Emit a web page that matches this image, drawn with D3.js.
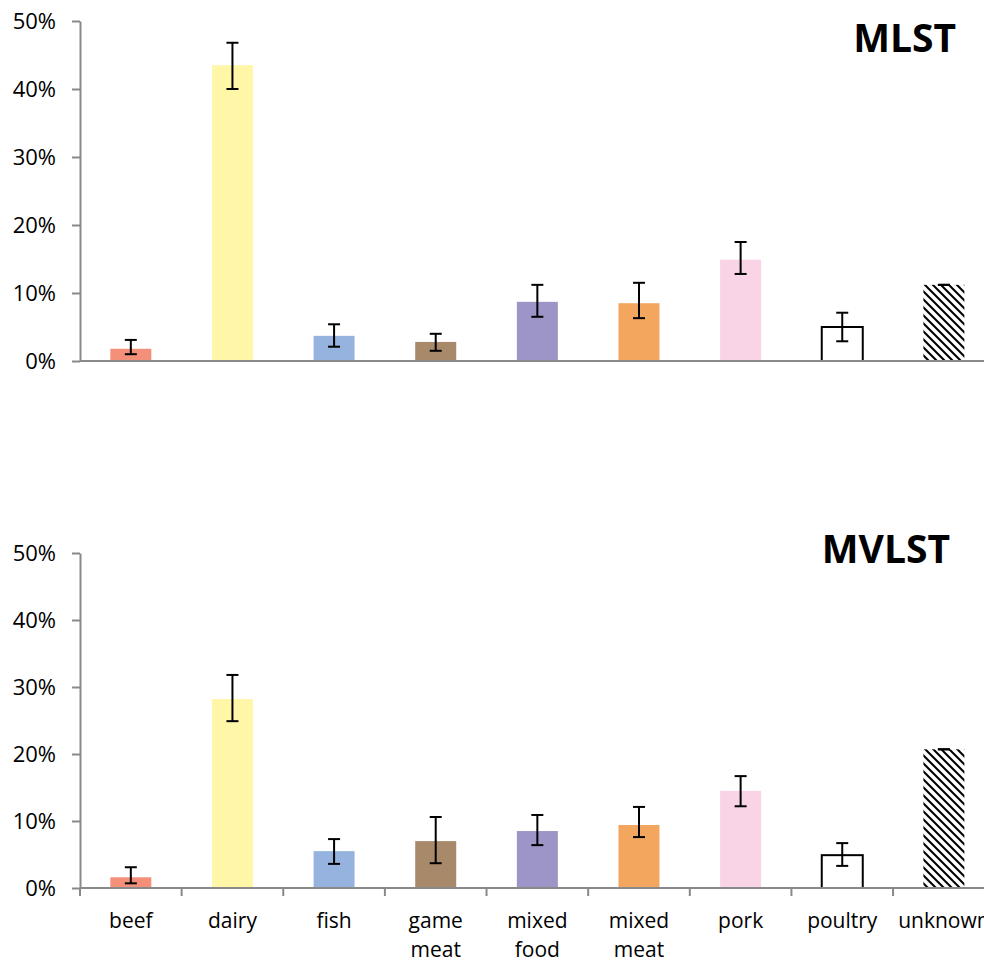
<!DOCTYPE html>
<html>
<head>
<meta charset="utf-8">
<script src="https://cdn.jsdelivr.net/npm/d3@7"></script>
<style>
  body { margin: 0; background: #fff; }
  svg { display: block; font-family: "Open Sans", sans-serif; }
</style>
</head>
<body>
<script>
var categories = ["beef", "dairy", "fish", "game meat", "mixed food", "mixed meat", "pork", "poultry", "unknown"];
var colors = ["#f4907a", "#fff6a8", "#95b3de", "#a88a6a", "#9d94c8", "#f2a65e", "#f9d3e6", "#ffffff", "hatch"];
var yTicks = [0, 0.1, 0.2, 0.3, 0.4, 0.5];

// MLST
var mlstValues = [0.018, 0.435, 0.037, 0.028, 0.087, 0.085, 0.149, 0.050, 0.112];
var mlstLow    = [0.010, 0.400, 0.021, 0.015, 0.065, 0.063, 0.128, 0.029, 0.112];
var mlstHigh   = [0.031, 0.468, 0.054, 0.040, 0.112, 0.115, 0.175, 0.071, 0.112];

// MVLST
var mvlstValues = [0.016, 0.282, 0.055, 0.070, 0.085, 0.094, 0.145, 0.049, 0.207];
var mvlstLow    = [0.007, 0.249, 0.036, 0.037, 0.064, 0.076, 0.122, 0.033, 0.207];
var mvlstHigh   = [0.031, 0.318, 0.073, 0.106, 0.109, 0.121, 0.167, 0.067, 0.207];

var width = 984;
var height = 962;
var axisColor = "#898989";

var svg = d3.select("body").append("svg")
	.attr("width", width)
	.attr("height", height);

var defs = svg.append("defs");
defs.append("pattern")
	.attr("id", "hatch")
	.attr("patternUnits", "userSpaceOnUse")
	.attr("width", 8)
	.attr("height", 8)
	.call(function(p) {
		p.append("rect").attr("width", 8).attr("height", 8).attr("fill", "white");
		p.append("path")
			.attr("d", "M-2,-2 L10,10 M-2,6 L2,10 M6,-2 L10,2")
			.attr("stroke", "black")
			.attr("stroke-width", 2);
	});

var x = d3.scaleBand()
	.domain(categories)
	.range([80, 994.7]);
var barWidth = 41;

function drawPanel(values, low, high, top, bottom, title, titleX, titleY, showLabels) {
	var y = d3.scaleLinear().domain([0, 0.5]).range([bottom, top]);
	var g = svg.append("g");

	// bars
	g.selectAll("rect.bar").data(values).enter().append("rect")
		.attr("class", "bar")
		.attr("x", function(d, i) { return x(categories[i]) + x.bandwidth() / 2 - barWidth / 2; })
		.attr("y", function(d) { return y(d); })
		.attr("width", barWidth)
		.attr("height", function(d) { return bottom - y(d); })
		.attr("fill", function(d, i) { return colors[i] === "hatch" ? "url(#hatch)" : colors[i]; })
		.attr("stroke", function(d, i) { return colors[i] === "#ffffff" ? "black" : "none"; })
		.attr("stroke-width", 2);

	// error bars
	var err = g.selectAll("g.err").data(values).enter().append("g")
		.attr("class", "err")
		.attr("transform", function(d, i) { return "translate(" + (x(categories[i]) + x.bandwidth() / 2) + ",0)"; });
	err.append("line")
		.attr("y1", function(d, i) { return y(low[i]); })
		.attr("y2", function(d, i) { return y(high[i]); })
		.attr("stroke", "black").attr("stroke-width", 2);
	err.append("line")
		.attr("x1", -6).attr("x2", 6)
		.attr("y1", function(d, i) { return y(high[i]); })
		.attr("y2", function(d, i) { return y(high[i]); })
		.attr("stroke", "black").attr("stroke-width", 2);
	err.append("line")
		.attr("x1", -6).attr("x2", 6)
		.attr("y1", function(d, i) { return y(low[i]); })
		.attr("y2", function(d, i) { return y(low[i]); })
		.attr("stroke", "black").attr("stroke-width", 2);

	// y axis
	var yAxis = g.append("g")
		.attr("transform", "translate(80,0)")
		.call(d3.axisLeft(y).tickValues(yTicks).tickFormat(d3.format(".0%")).tickSize(8).tickSizeOuter(0).tickPadding(16));
	yAxis.select(".domain").attr("stroke", axisColor).attr("stroke-width", 2);
	yAxis.selectAll(".tick line").attr("stroke", axisColor).attr("stroke-width", 2);
	yAxis.selectAll(".tick text")
		.attr("fill", "black")
		.attr("font-size", 22)
		.attr("font-family", "Open Sans, sans-serif");

	// x axis
	g.append("line")
		.attr("x1", 80).attr("x2", width)
		.attr("y1", bottom).attr("y2", bottom)
		.attr("stroke", axisColor).attr("stroke-width", 2);

	if (showLabels) {
		g.selectAll("line.xtick").data(categories).enter().append("line")
			.attr("class", "xtick")
			.attr("x1", function(d) { return x(d); })
			.attr("x2", function(d) { return x(d); })
			.attr("y1", bottom).attr("y2", bottom + 8)
			.attr("stroke", axisColor).attr("stroke-width", 2);

		var lbl = g.selectAll("text.xlab").data(categories).enter().append("text")
			.attr("class", "xlab")
			.attr("text-anchor", "middle")
			.attr("font-size", 21)
			.attr("fill", "black")
			.attr("transform", function(d) { return "translate(" + (x(d) + x.bandwidth() / 2) + "," + (bottom + 40) + ")"; });
		lbl.selectAll("tspan").data(function(d) { return d.split(" "); }).enter().append("tspan")
			.attr("x", 0)
			.attr("dy", function(d, i) { return i === 0 ? 0 : 29; })
			.text(function(d) { return d; });
	}

	g.append("text")
		.attr("x", titleX).attr("y", titleY)
		.attr("text-anchor", "end")
		.attr("font-size", 39)
		.attr("font-weight", "bold")
		.attr("fill", "black")
		.text(title);
}

drawPanel(mlstValues, mlstLow, mlstHigh, 21, 361, "MLST", 956, 52, false);
drawPanel(mvlstValues, mvlstLow, mvlstHigh, 553, 888, "MVLST", 950, 563, true);
</script>
</body>
</html>
